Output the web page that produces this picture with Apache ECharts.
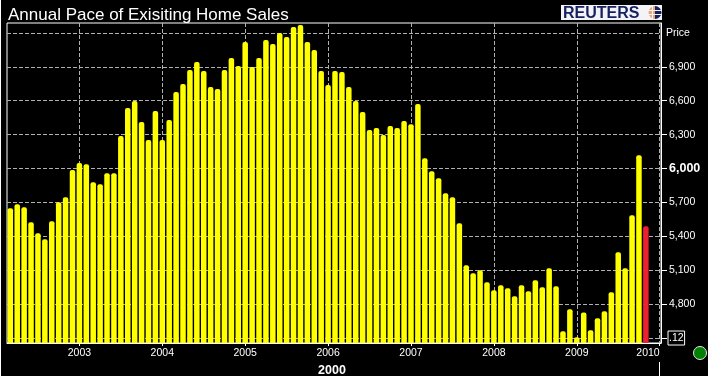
<!DOCTYPE html>
<html lang="en">
<head>
    <meta charset="UTF-8">
    <title>Annual Pace of Exisiting Home Sales</title>
    <script src="https://cdn.jsdelivr.net/npm/echarts@6/dist/echarts.min.js"></script>
    <style>
        html, body { margin: 0; padding: 0; background: #000; }
        #chart { width: 708px; height: 376px; }
    </style>
</head>
<body>
<div id="chart"></div>
<script>
    // monthly bars, first one is Mar 2002, last one (red) is Nov 2009
    var salesValues = [
        5649, 5684, 5658, 5525, 5428, 5374, 5534, 5702, 5746, 5986,
        6048, 6039, 5879, 5862, 5959, 5959, 6287, 6535, 6597, 6411, 6252, 6509,
        6252, 6429, 6677, 6748, 6872, 6943, 6863, 6721, 6703, 6872, 6978, 6907,
        7120, 6898, 6978, 7138, 7102, 7200, 7164, 7253, 7271, 7120, 7049, 6863,
        6739, 6863, 6854, 6721, 6597, 6500, 6340, 6358, 6296, 6376, 6358, 6420,
        6393, 6571, 6092, 5977, 5915, 5782, 5746, 5516, 5144, 5073, 5100, 4993,
        4922, 4967, 4940, 4869, 4967, 4914, 5011, 4949, 5118, 4958, 4559, 4754,
        4506, 4727, 4568, 4674, 4736, 4905, 5259, 5118, 5587, 6118, 5489
    ];
    var yearTicks = [10, 22, 34, 46, 58, 70, 82, 94];
    var yearLabels = ['2003', '2004', '2005', '2006', '2007', '2008', '2009', '2010'];
    var priceTicks = [4500, 4800, 5100, 5400, 5700, 6000, 6300, 6600, 6900];
    var priceTop = 7200;

    var chart = echarts.init(document.getElementById('chart'));
    var font = '"Liberation Sans", Arial, sans-serif';
    var gridDash = {color: '#b0b0b0', type: [4, 2], width: 1};

    var barData = salesValues.map(function (v, i) {
        // last month is the highlighted one
        if (i === salesValues.length - 1) {
            return {value: [i, v], itemStyle: {color: '#ee2030'}};
        }
        return [i, v];
    });

    chart.setOption({
        backgroundColor: '#000',
        animation: false,
        title: {
            text: 'Annual Pace of Exisiting Home Sales',
            left: 3, top: 2,
            textStyle: {color: '#fff', fontFamily: font, fontSize: 17, fontWeight: 'normal'}
        },
        grid: {
            left: 7, right: 47, top: 23, bottom: 33,
            outerBoundsMode: 'none',
            show: true, borderColor: '#fff', borderWidth: 1, backgroundColor: '#000'
        },
        xAxis: {
            type: 'value',
            min: -0.48,
            max: 94.19,
            name: '2000',
            nameLocation: 'middle',
            nameGap: 20,
            nameTextStyle: {color: '#fff', fontFamily: font, fontSize: 12.5, fontWeight: 'bold', padding: [0, 4, 0, 0]},
            axisLine: {show: true, onZero: false, lineStyle: {color: '#fff'}},
            axisTick: {show: true, length: 3, lineStyle: {color: '#fff'}, customValues: yearTicks},
            axisLabel: {
                color: '#fff', fontFamily: font, fontSize: 10.5, margin: 5,
                customValues: yearTicks,
                alignMaxLabel: 'right',
                formatter: function (v) { return yearLabels[yearTicks.indexOf(v)]; }
            },
            splitLine: {show: true, lineStyle: gridDash}
        },
        yAxis: {
            type: 'value',
            position: 'right',
            min: 4456,
            max: 7288,
            axisLine: {show: true, onZero: false, lineStyle: {color: '#fff'}},
            axisTick: {show: true, length: 6, lineStyle: {color: '#fff'}, customValues: priceTicks},
            axisLabel: {
                color: '#fff', fontFamily: font, fontSize: 10.5, margin: 5,
                customValues: priceTicks.concat([priceTop]),
                formatter: function (v) {
                    if (v === priceTop) return 'Price';
                    if (v === priceTicks[0]) return '{gap|}{box|.12}';
                    var s = echarts.format.addCommas(v);
                    return v === 6000 ? '{strong|' + s + '}' : '{num|' + s + '}';
                },
                rich: {
                    num: {color: '#fff', fontFamily: font, fontSize: 10.5, padding: [0, 0, 0, 3]},
                    strong: {color: '#fff', fontFamily: font, fontSize: 12.5, fontWeight: 'bold', padding: [0, 0, 0, 3]},
                    gap: {width: 2},
                    box: {color: '#fff', fontFamily: font, fontSize: 10.5, borderColor: '#fff', borderWidth: 1, padding: [2, 1, 1, 1]}
                }
            },
            splitLine: {show: true, lineStyle: gridDash}
        },
        series: [{
            type: 'bar',
            barWidth: 5.5,
            itemStyle: {color: '#ffff00', borderRadius: [2, 2, 0, 0]},
            data: barData,
            markLine: {
                silent: true,
                z: 1,
                symbol: 'none',
                label: {show: false},
                lineStyle: gridDash,
                data: [{yAxis: priceTop}]
            }
        }],
        graphic: [
            // reuters badge
            {type: 'rect', shape: {x: 561, y: 5, width: 101, height: 15}, style: {fill: '#f4f4f8'}},
            {type: 'text', x: 563, y: 6, style: {text: 'REUTERS', fill: '#15205f', font: 'bold 16px ' + font, textVerticalAlign: 'top', textBaseline: 'top'}},
            {type: 'sector', shape: {cx: 655, cy: 12.5, r: 6.5, startAngle: Math.PI / 2, endAngle: Math.PI * 1.5}, style: {fill: '#e8a878'}},
            {type: 'sector', shape: {cx: 655, cy: 12.5, r: 6.5, startAngle: -Math.PI / 2, endAngle: Math.PI / 2}, style: {fill: '#15205f'}},
            {type: 'line', shape: {x1: 648, y1: 10.5, x2: 662, y2: 10.5}, style: {stroke: '#f4f4f8'}},
            {type: 'line', shape: {x1: 648, y1: 14.5, x2: 662, y2: 14.5}, style: {stroke: '#f4f4f8'}},
            {type: 'line', shape: {x1: 652.5, y1: 6, x2: 652.5, y2: 19}, style: {stroke: '#f4f4f8'}},
            // bits outside the plot
            {type: 'line', shape: {x1: 659.5, y1: 362, x2: 659.5, y2: 376}, style: {stroke: '#fff'}},
            {type: 'circle', shape: {cx: 700, cy: 353, r: 6.5}, style: {fill: '#008000', stroke: '#e8e8e8', lineWidth: 1}},
            {type: 'rect', shape: {x: 0, y: 0, width: 1, height: 376}, style: {fill: '#fff'}}
        ]
    });
</script>
</body>
</html>
